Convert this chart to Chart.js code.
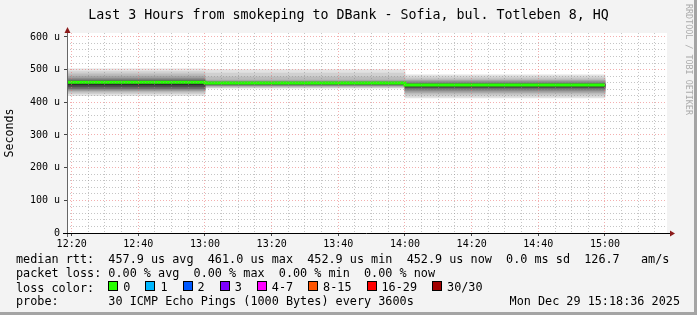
<!DOCTYPE html>
<html>
<head>
<meta charset="utf-8">
<script src="https://cdn.jsdelivr.net/npm/chart.js@4"></script>
<style>
  html, body { margin: 0; padding: 0; }
  body { width: 697px; height: 315px; background: #f3f3f3; position: relative; overflow: hidden;
         font-family: 'DejaVu Sans Mono', monospace; color: #000; }
  #chart { position: absolute; left: 0; top: 0; }
  #title { position: absolute; left: 0; width: 697px; top: 6.5px; text-align: center;
           font-size: 13.3px; line-height: 16px; white-space: pre; }
  #mark { position: absolute; left: 684px; top: 4px; writing-mode: vertical-rl; font-size: 8.4px;
          line-height: 10px; color: #ababab; white-space: pre; }
  #legend { position: absolute; left: 16px; top: 252px; font-size: 11.8px; line-height: 14px; }
  .ln { white-space: pre; height: 14px; position: relative; }
  .loss { display: inline-flex; align-items: center; }
  .box { display: inline-block; width: 10px; height: 10px; box-sizing: border-box; border: 1px solid #000;
         margin-right: 5px; position: relative; top: -1px; }
  .item { display: inline-flex; align-items: center; margin-right: 15px; }
  #date { position: absolute; right: 17px; top: 294px; font-size: 11.8px; line-height: 14px; white-space: pre; }
  .edgeR { position: absolute; right: 0; top: 0; width: 3px; height: 315px; background: #a4a4a4; }
  .edgeB { position: absolute; left: 0; bottom: 0; width: 697px; height: 3px; background: #a4a4a4; }
</style>
</head>
<body>
<canvas id="chart" width="697" height="315"></canvas>
<div id="title">Last 3 Hours from smokeping to DBank - Sofia, bul. Totleben 8, HQ</div>
<div id="mark">RRDTOOL / TOBI OETIKER</div>
<div id="legend"></div>
<div id="date"></div>
<div class="edgeR"></div>
<div class="edgeB"></div>
<script>
// time window (end of graph) and axis labels
const endTime = '15:18:36';
const timeLabels = ['12:20', '12:40', '13:00', '13:20', '13:40', '14:00', '14:20', '14:40', '15:00'];
const yLabels = ['0', '100 u', '200 u', '300 u', '400 u', '500 u', '600 u'];

// one smoke bin per hour
const binStart = ['12:00', '13:00', '14:00'];
const medianRtt = [461.0, 459.0, 452.9];

// sorted ping samples per bin (us), lowest to highest
const pingsBin1 = [420, 426, 431, 435, 438, 442, 447, 453, 463, 465, 469, 474, 480, 487, 494, 502];
const pingsBin2 = [443, 445, 447, 449, 451, 453, 455, 457, 460, 461, 462, 463, 468, 478, 489, 500];
const pingsBin3 = [413, 419, 425, 430, 435, 440, 445, 449, 454, 456, 459, 463, 467, 472, 478, 484];

// legend rows
const rttStats = ['457.9 us avg', '461.0 us max', '452.9 us min', '452.9 us now', '0.0 ms sd', '126.7   am/s'];
const lossStats = ['0.00 % avg', '0.00 % max', '0.00 % min', '0.00 % now'];
const lossLabels = ['0', '1', '2', '3', '4-7', '8-15', '16-29', '30/30'];
const lossColors = ['#26ff00', '#00b8ff', '#0059ff', '#7e00ff', '#ff00ff', '#ff5500', '#ff0000', '#a10000'];
const probeText = '30 ICMP Echo Pings (1000 Bytes) every 3600s';
const dateText = 'Mon Dec 29 15:18:36 2025';

// smoke shades, outer band first
const smokeGrays = ['#e2e2e2', '#d0d0d0', '#bcbcbc', '#a6a6a6', '#8c8c8c', '#6e6e6e', '#4e4e4e', '#2e2e2e'];

function toMin(s) {
    const p = s.split(':').map(Number);
    return p[0] * 60 + p[1] + (p[2] || 0) / 60;
}
function fmtMin(v) {
    const h = Math.floor(v / 60), m = Math.round(v % 60);
    return String(h).padStart(2, '0') + ':' + String(m).padStart(2, '0');
}

const xMax = toMin(endTime);
const xMin = xMax - 180;
const majorX = timeLabels.map(toMin);
const majorY = yLabels.map(l => parseFloat(l) || 0);
const isMajorX = v => majorX.some(m => Math.abs(m - v) < 0.01);

// minor grid every 5 min / 20 u
const xTicks = [];
for (let v = majorX[0] - 5 * Math.floor((majorX[0] - xMin) / 5); v <= xMax; v += 5) xTicks.push(v);
const yTicks = [];
for (let v = 0; v <= majorY[majorY.length - 1]; v += 20) yTicks.push(v);

const bins = [pingsBin1, pingsBin2, pingsBin3];
const binMin = binStart.map(toMin);

// smoke layers as floating bars, inner (darker) layers on top
const smokeSets = smokeGrays.map((c, k) => ({
    type: 'bar',
    data: bins.map((p, i) => ({ x: binMin[i] + 30, y: [p[k], p[p.length - 1 - k]] })),
    backgroundColor: c,
    borderWidth: 0,
    order: smokeGrays.length - k,
    barThickness: 'flex',
    categoryPercentage: 1,
    barPercentage: 1
}));

const medianPts = [];
binMin.forEach((s, i) => {
    medianPts.push({ x: s, y: medianRtt[i] }, { x: s + 60, y: medianRtt[i] });
});

const monoFont = { family: 'DejaVu Sans Mono', size: 10 };
const minorGrid = 'rgba(140,140,140,0.5)';
const majorGrid = 'rgba(235,110,110,0.55)';

// white plot area, axis lines and arrows
const framePlugin = {
    id: 'framePlugin',
    beforeDraw(chart) {
        const { ctx, chartArea: a } = chart;
        ctx.save();
        ctx.fillStyle = '#ffffff';
        ctx.fillRect(a.left, a.top, a.right - a.left, a.bottom - a.top);
        ctx.restore();
    },
    afterDraw(chart) {
        const { ctx, chartArea: a } = chart;
        ctx.save();
        ctx.lineWidth = 1;
        ctx.strokeStyle = '#666666';
        ctx.beginPath();
        ctx.moveTo(a.left + 0.5, a.bottom + 4);
        ctx.lineTo(a.left + 0.5, a.top - 1);
        ctx.stroke();
        ctx.strokeStyle = '#000000';
        ctx.beginPath();
        ctx.moveTo(a.left - 4, a.bottom + 0.5);
        ctx.lineTo(a.right + 3, a.bottom + 0.5);
        ctx.stroke();
        ctx.fillStyle = '#8b1a1a';
        ctx.beginPath();
        ctx.moveTo(a.right + 3, a.bottom - 2.5);
        ctx.lineTo(a.right + 8, a.bottom + 0.5);
        ctx.lineTo(a.right + 3, a.bottom + 3.5);
        ctx.fill();
        ctx.beginPath();
        ctx.moveTo(a.left - 2.5, a.top);
        ctx.lineTo(a.left + 0.5, a.top - 6);
        ctx.lineTo(a.left + 3.5, a.top);
        ctx.fill();
        ctx.restore();
    }
};

new Chart(document.getElementById('chart'), {
    type: 'bar',
    data: {
        datasets: [{
            type: 'line',
            data: medianPts,
            borderColor: '#26ff00',
            borderWidth: 3,
            pointRadius: 0,
            tension: 0,
            order: 0
        }, ...smokeSets]
    },
    options: {
        responsive: false,
        animation: false,
        devicePixelRatio: 1,
        layout: { padding: { left: 0, right: 30, top: 33, bottom: 0 } },
        plugins: { legend: { display: false }, tooltip: { enabled: false } },
        scales: {
            x: {
                type: 'linear',
                min: xMin,
                max: xMax,
                offset: false,
                stacked: true,
                afterBuildTicks: s => { s.ticks = xTicks.map(v => ({ value: v })); },
                afterFit: s => { s.height = 82; },
                ticks: {
                    autoSkip: false,
                    maxRotation: 0,
                    padding: 2,
                    color: '#000',
                    font: monoFont,
                    callback: v => isMajorX(v) ? fmtMin(v) : ''
                },
                grid: {
                    offset: false,
                    z: 1,
                    tickLength: 3,
                    color: c => isMajorX(c.tick.value) ? majorGrid : minorGrid,
                    tickColor: c => isMajorX(c.tick.value) ? '#444' : 'rgba(0,0,0,0)'
                },
                border: { display: false, dash: [1, 2] }
            },
            y: {
                min: 0,
                max: 612,
                stacked: false,
                afterBuildTicks: s => { s.ticks = yTicks.map(v => ({ value: v })); },
                afterFit: s => { s.width = 67; },
                ticks: {
                    autoSkip: false,
                    padding: 4,
                    color: '#000',
                    font: monoFont,
                    callback: v => { const i = majorY.indexOf(v); return i < 0 ? '' : yLabels[i]; }
                },
                grid: {
                    z: 1,
                    tickLength: 3,
                    color: c => majorY.includes(c.tick.value) ? majorGrid : minorGrid,
                    tickColor: c => majorY.includes(c.tick.value) ? '#444' : 'rgba(0,0,0,0)'
                },
                border: { display: false, dash: [1, 2] },
                title: {
                    display: true,
                    text: 'Seconds',
                    color: '#000',
                    font: { family: 'DejaVu Sans Mono', size: 11.6 },
                    padding: { top: 3, bottom: 0 }
                }
            }
        }
    },
    plugins: [framePlugin]
});

// legend text below the plot
const legend = document.getElementById('legend');
function addLine(html) {
    const d = document.createElement('div');
    d.className = 'ln';
    d.innerHTML = html;
    legend.appendChild(d);
    return d;
}
addLine('median rtt:  ' + rttStats.join('  '));
addLine('packet loss: ' + lossStats.join('  '));
const lossLine = addLine('loss color:  ');
const lossWrap = document.createElement('span');
lossWrap.className = 'loss';
lossLabels.forEach((l, i) => {
    const it = document.createElement('span');
    it.className = 'item';
    it.innerHTML = '<span class="box" style="background:' + lossColors[i] + '"></span>' + l;
    lossWrap.appendChild(it);
});
lossLine.appendChild(lossWrap);
addLine('probe:       ' + probeText);
document.getElementById('date').textContent = dateText;
</script>
</body>
</html>
